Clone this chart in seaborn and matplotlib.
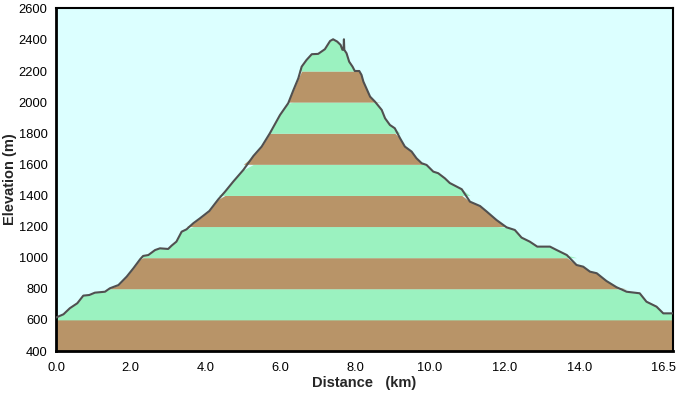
import numpy as np
import pandas as pd
import matplotlib
matplotlib.use("Agg")
import matplotlib.pyplot as plt
import matplotlib.transforms as mtransforms
import seaborn as sns

distance_km = [0.0, 0.2, 0.37, 0.57, 0.73, 0.89, 1.04, 1.31, 1.44, 1.67, 1.89, 2.07, 2.25, 2.33,
               2.47, 2.65, 2.78, 3.0, 3.09, 3.22, 3.36, 3.49, 3.67, 3.85, 4.1, 4.34, 4.52, 4.74,
               5.01, 5.28, 5.5, 5.72, 5.99, 6.21, 6.35, 6.48, 6.57, 6.7, 6.84, 7.01, 7.19, 7.33,
               7.41, 7.52, 7.61, 7.66, 7.69, 7.70, 7.71, 7.77, 7.84, 7.93, 7.99, 8.11, 8.17, 8.22,
               8.3, 8.4, 8.53, 8.71, 8.8, 8.93, 9.06, 9.2, 9.33, 9.51, 9.64, 9.78, 9.91, 10.09,
               10.22, 10.4, 10.53, 10.85, 11.07, 11.34, 11.52, 11.78, 12.05, 12.27, 12.45, 12.67,
               12.87, 13.21, 13.39, 13.66, 13.92, 14.1, 14.28, 14.46, 14.72, 14.99, 15.26, 15.61,
               15.79, 16.06, 16.24, 16.5]
elevation_m = [615, 636, 675, 707, 756, 760, 775, 781, 803, 824, 878, 932, 990, 1011,
               1017, 1049, 1060, 1056, 1077, 1103, 1167, 1182, 1221, 1253, 1300, 1375, 1424, 1489,
               1564, 1654, 1714, 1800, 1917, 1993, 2078, 2153, 2228, 2271, 2308, 2310, 2340, 2393,
               2404, 2389, 2368, 2336, 2340, 2404, 2336, 2314, 2260, 2228, 2200, 2200, 2175, 2132,
               2089, 2035, 2003, 1950, 1896, 1853, 1832, 1768, 1714, 1682, 1639, 1607, 1596, 1553,
               1543, 1510, 1480, 1440, 1360, 1332, 1296, 1242, 1195, 1178, 1129, 1103,
               1071, 1071, 1049, 1017, 953, 942, 910, 900, 850, 810, 781, 771,
               717, 685, 642, 642]

x_ticks = [0, 2, 4, 6, 8, 10, 12, 14, 16.5]
x_tick_labels = ["0.0", "2.0", "4.0", "6.0", "8.0", "10.0", "12.0", "14.0", "16.5"]
y_ticks = [400, 600, 800, 1000, 1200, 1400, 1600, 1800, 2000, 2200, 2400, 2600]
band_edges = list(range(400, 2601, 200))

sns.set_style("white")
plt.rcParams['font.family'] = ['Liberation Sans', 'DejaVu Sans']

df = pd.DataFrame({"Distance": distance_km, "Elevation": elevation_m})
d = np.array(distance_km)
e = np.array(elevation_m, dtype=float)

fig = plt.figure(figsize=(6.77, 3.95), dpi=100)
ax = fig.add_axes([56/677, 44/395, 617/677, 343/395])
ax.set_facecolor("#DCFFFF")

brown = "#B89468"
green = "#9BF2C0"
for i in range(len(band_edges) - 1):
    lo, hi = band_edges[i], band_edges[i + 1]
    top = np.clip(e, lo, hi)
    ax.fill_between(d, lo, top, color=brown if i % 2 == 0 else green, linewidth=0, zorder=1)

sns.lineplot(data=df, x="Distance", y="Elevation", ax=ax, color="#505050", linewidth=1.5,
             zorder=3)

ax.set_xlim(0, 16.5)
ax.set_ylim(400, 2605)
ax.set_xticks(x_ticks)
ax.set_xticklabels(x_tick_labels)
ax.set_yticks(y_ticks)
ax.set_yticklabels([str(v) for v in y_ticks])
ax.tick_params(axis="both", direction="out", length=4, width=1.2, color="black",
               labelsize=9.3, pad=2, labelcolor="black")
ax.tick_params(axis="x", pad=4)
last = ax.get_xticklabels()[-1]
last.set_horizontalalignment("right")
last.set_transform(last.get_transform() + mtransforms.ScaledTranslation(3/100, 0, fig.dpi_scale_trans))
for s in ax.spines.values():
    s.set_color("black")
    s.set_linewidth(1.5)
ax.spines["left"].set_linewidth(2)
ax.spines["bottom"].set_linewidth(2)
ax.set_xlabel("Distance   (km)", fontsize=10.5, fontweight="bold", labelpad=1)
ax.set_ylabel("Elevation (m)", fontsize=10.5, fontweight="bold", labelpad=1)

fig.savefig("out.png", dpi=100, facecolor="white")
